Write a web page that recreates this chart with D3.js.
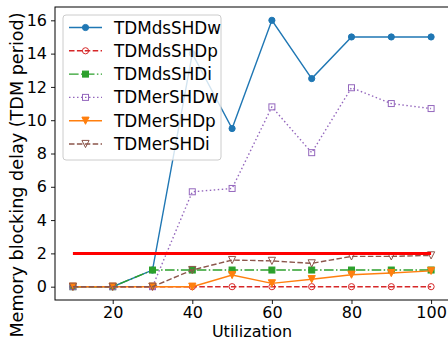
<!DOCTYPE html>
<html>
<head>
<meta charset="utf-8">
<script src="https://cdn.jsdelivr.net/npm/d3@7"></script>
<style>
    body { margin: 0; background: #fff; }
    svg { display: block; font-family: "DejaVu Sans", sans-serif; }
</style>
</head>
<body>
<div id="graph"></div>
<script>
// Data
const utilization = [10, 20, 30, 40, 50, 60, 70, 80, 90, 100];
const tdmDsShdW = [0, 0, 1, 14, 9.5, 16, 12.5, 15, 15, 15];
const tdmDsShdP = [0, 0, 0, 0, 0, 0, 0, 0, 0, 0];
const tdmDsShdI = [0, 0, 1, 1, 1, 1, 1, 1, 1, 1];
const tdmErShdW = [0, 0, 0, 5.7, 5.9, 10.8, 8.05, 11.95, 11.0, 10.7];
const tdmErShdP = [0, 0, 0, 0, 0.7, 0.2, 0.45, 0.72, 0.82, 0.95];
const tdmErShdI = [0, 0, 0, 1, 1.6, 1.55, 1.4, 1.82, 1.82, 1.88];
const threshold = 2;
const xTicks = [20, 40, 60, 80, 100];
const yTicks = [0, 2, 4, 6, 8, 10, 12, 14, 16];

const series = [
    { name: "TDMdsSHDw", values: tdmDsShdW, color: "#1f77b4", dash: null, marker: "circle", filled: true },
    { name: "TDMdsSHDp", values: tdmDsShdP, color: "#d62728", dash: "5.5,2.4", marker: "circle", filled: false },
    { name: "TDMdsSHDi", values: tdmDsShdI, color: "#2ca02c", dash: "9.6,2.4,1.5,2.4", marker: "square", filled: true },
    { name: "TDMerSHDw", values: tdmErShdW, color: "#9467bd", dash: "1.5,2.5", marker: "square", filled: false },
    { name: "TDMerSHDp", values: tdmErShdP, color: "#ff7f0e", dash: null, marker: "tri", filled: true },
    { name: "TDMerSHDi", values: tdmErShdI, color: "#8c564b", dash: "5.5,2.4", marker: "tri", filled: false }
];

const width = 448, height = 342;
const plot = { left: 55, right: 449, top: 7, bottom: 300 };

const svg = d3.select("#graph").append("svg")
    .attr("width", width)
    .attr("height", height);

const x = d3.scaleLinear().domain([5.5, 104.5]).range([plot.left, plot.right]);
const y = d3.scaleLinear().domain([-0.8, 16.8]).range([plot.bottom, plot.top]);

// Axes
const xAxis = svg.append("g")
    .attr("transform", `translate(0, ${plot.bottom})`)
    .call(d3.axisBottom(x).tickValues(xTicks).tickSize(4).tickPadding(2.5));
const yAxis = svg.append("g")
    .attr("transform", `translate(${plot.left}, 0)`)
    .call(d3.axisLeft(y).tickValues(yTicks).tickSize(4).tickPadding(4));

[xAxis, yAxis].forEach(g => {
    g.select(".domain").remove();
    g.selectAll("text").attr("font-size", 16).attr("font-family", "DejaVu Sans").attr("fill", "#000");
    g.selectAll("line").attr("stroke", "#000").attr("stroke-width", 0.9);
});

// Frame
svg.append("rect")
    .attr("x", plot.left).attr("y", plot.top)
    .attr("width", plot.right - plot.left).attr("height", plot.bottom - plot.top)
    .attr("fill", "none").attr("stroke", "#000").attr("stroke-width", 1);

// Axis labels
svg.append("text")
    .attr("x", (plot.left + plot.right) / 2).attr("y", 337)
    .attr("text-anchor", "middle").attr("font-size", 16)
    .text("Utilization");
svg.append("text")
    .attr("transform", `translate(23, 175) rotate(-90)`)
    .attr("text-anchor", "middle").attr("font-size", 17.6)
    .text("Memory blocking delay (TDM period)");

// Marker drawing
function drawMarker(g, type, cx, cy, color, filled) {
    let m;
    if (type === "circle") {
        m = g.append("circle").attr("cx", cx).attr("cy", cy).attr("r", 3.1);
    } else if (type === "square") {
        m = g.append("rect").attr("x", cx - 3).attr("y", cy - 3).attr("width", 6).attr("height", 6);
    } else {
        const s = 3.6;
        m = g.append("path").attr("d", `M${cx - s},${cy - s}L${cx + s},${cy - s}L${cx},${cy + s}Z`);
    }
    m.attr("stroke", color).attr("stroke-width", 1)
        .attr("fill", filled ? color : "none");
}

const line = d3.line()
    .x((d, i) => x(utilization[i]))
    .y(d => y(d));

const plotG = svg.append("g");
series.forEach(s => {
    const g = plotG.append("g");
    g.append("path")
        .attr("d", line(s.values))
        .attr("fill", "none")
        .attr("stroke", s.color)
        .attr("stroke-width", 1.4)
        .attr("stroke-dasharray", s.dash);
    s.values.forEach((v, i) => drawMarker(g, s.marker, x(utilization[i]), y(v), s.color, s.filled));
});

// Threshold line
svg.append("line")
    .attr("x1", x(10)).attr("x2", x(100))
    .attr("y1", y(threshold)).attr("y2", y(threshold))
    .attr("stroke", "#ff0000").attr("stroke-width", 3);

// Legend
const legend = svg.append("g");
legend.append("rect")
    .attr("x", 63).attr("y", 15).attr("width", 158).attr("height", 145)
    .attr("rx", 3)
    .attr("fill", "#fff").attr("fill-opacity", 0.8)
    .attr("stroke", "#cccccc").attr("stroke-width", 1);

series.forEach((s, i) => {
    const cy = 27.5 + i * 23.3;
    legend.append("line")
        .attr("x1", 69).attr("x2", 102).attr("y1", cy).attr("y2", cy)
        .attr("stroke", s.color).attr("stroke-width", 1.4)
        .attr("stroke-dasharray", s.dash);
    drawMarker(legend, s.marker, 85.5, cy, s.color, s.filled);
    legend.append("text")
        .attr("x", 114).attr("y", cy)
        .attr("dy", "0.36em")
        .attr("font-size", 16.8)
        .text(s.name);
});
</script>
</body>
</html>
